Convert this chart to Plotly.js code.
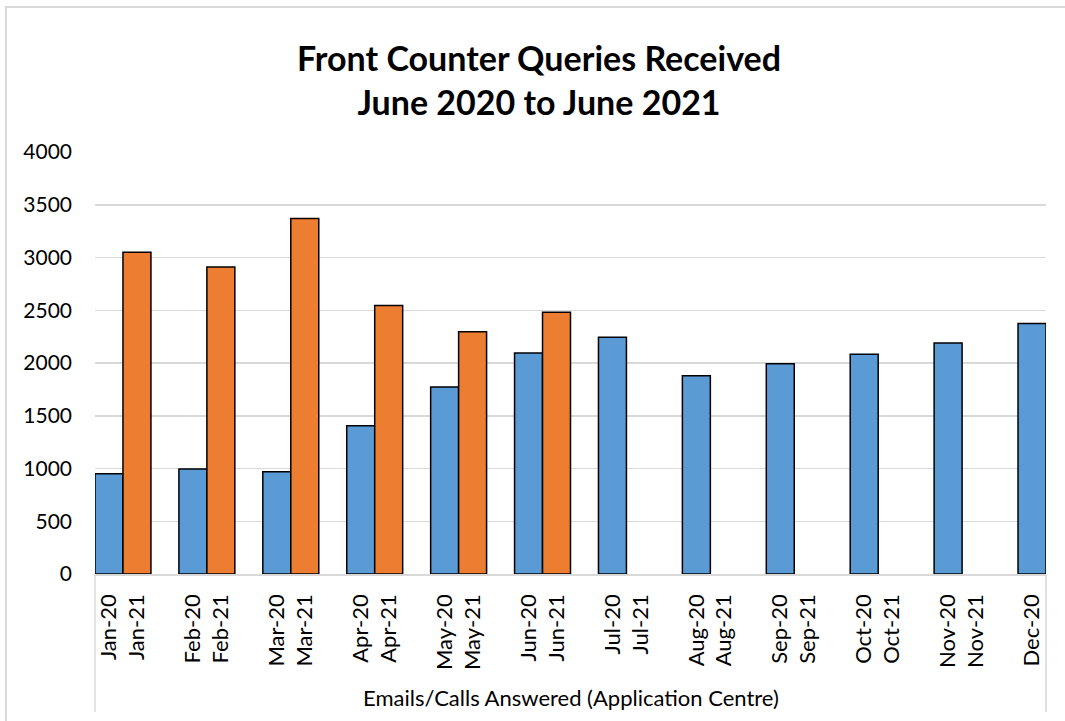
<!DOCTYPE html>
<html>
<head>
<meta charset="utf-8">
<script src="https://cdn.plot.ly/plotly-3.0.1.min.js"></script>
<style>
  html, body { margin: 0; padding: 0; width: 1065px; height: 721px; overflow: hidden; background: #fff; }
  #frame { position: absolute; left: 5px; top: 6px; width: 1200px; height: 900px;
           border-left: 2px solid #D9D9D9; border-top: 2px solid #D9D9D9; box-sizing: border-box; }
  #chart { position: absolute; left: 0; top: 0; width: 1065px; height: 721px; }
</style>
</head>
<body>
<div id="frame"></div>
<div id="chart"></div>
<script>
// ---- data ----
const months = ['Jan','Feb','Mar','Apr','May','Jun','Jul','Aug','Sep','Oct','Nov','Dec'];
const values2020 = [950, 995, 970, 1405, 1772, 2094, 2245, 1879, 1993, 2084, 2189, 2375];
const values2021 = [3050, 2910, 3370, 2545, 2296, 2482, null, null, null, null, null, null];
const labels2020 = ['Jan-20','Feb-20','Mar-20','Apr-20','May-20','Jun-20','Jul-20','Aug-20','Sep-20','Oct-20','Nov-20','Dec-20'];
const labels2021 = ['Jan-21','Feb-21','Mar-21','Apr-21','May-21','Jun-21','Jul-21','Aug-21','Sep-21','Oct-21','Nov-21'];
const yTicks = [0, 500, 1000, 1500, 2000, 2500, 3000, 3500, 4000];
const titleText = 'Front Counter Queries Received<br>June 2020 to June 2021';
const groupLabel = 'Emails/Calls Answered (Application Centre)';

// ---- build ----
const idx = months.map((m, i) => i);
const barW = 1 / 3;
const FONT = 'Lato, "Open Sans", sans-serif';

const tickVals = [];
const tickText = [];
idx.forEach(i => {
  tickVals.push(i - barW / 2); tickText.push(labels2020[i]);
  if (i < labels2021.length) { tickVals.push(i + barW / 2); tickText.push(labels2021[i]); }
});

const traces = [
  { type: 'bar', name: '2020', x: idx, y: values2020, width: barW, offset: -barW,
    marker: { color: '#5B9BD5', line: { color: '#000', width: 1.5 } }, hoverinfo: 'y' },
  { type: 'bar', name: '2021', x: idx, y: values2021, width: barW, offset: 0,
    marker: { color: '#ED7D31', line: { color: '#000', width: 1.5 } }, hoverinfo: 'y' }
];

const plotBottom = 574, plotTop = 152;
const plotH = plotBottom - plotTop;

const layout = {
  width: 1065, height: 721,
  margin: { l: 95, r: 19, t: plotTop, b: 721 - plotBottom, pad: 0 },
  paper_bgcolor: 'rgba(0,0,0,0)',
  plot_bgcolor: 'rgba(0,0,0,0)',
  showlegend: false,
  barmode: 'overlay',
  font: { family: FONT, color: '#000', size: 20 },
  title: {
    text: titleText,
    font: { family: FONT, size: 34, color: '#000', weight: 'bold' },
    xref: 'container', x: 539 / 1065, xanchor: 'center',
    yref: 'container', y: 1 - 71 / 721, yanchor: 'top'
  },
  xaxis: {
    type: 'linear',
    range: [-barW, idx.length - 1],
    tickmode: 'array', tickvals: tickVals, ticktext: tickText,
    tickangle: -90,
    ticks: '', ticklabelstandoff: 10,
    tickfont: { family: FONT, size: 22, color: '#000' },
    showgrid: false, zeroline: false,
    showline: true, linecolor: '#D9D9D9', linewidth: 1.5,
    fixedrange: true
  },
  yaxis: {
    range: [0, 4000],
    tickmode: 'array', tickvals: yTicks,
    ticks: '', ticklabelstandoff: 22,
    tickfont: { family: FONT, size: 21, color: '#000' },
    showgrid: true, gridcolor: '#D9D9D9', gridwidth: 1.5,
    zeroline: false, showline: false,
    fixedrange: true
  },
  shapes: [
    { type: 'line', xref: 'paper', yref: 'paper', x0: 0, x1: 0, y0: 0, y1: -(712 - plotBottom) / plotH,
      line: { color: '#D9D9D9', width: 1.5 } },
    { type: 'line', xref: 'paper', yref: 'paper', x0: 1, x1: 1, y0: 0, y1: -(712 - plotBottom) / plotH,
      line: { color: '#D9D9D9', width: 1.5 } }
  ],
  annotations: [
    { text: groupLabel, xref: 'paper', yref: 'paper', x: 0.5, y: -(697 - plotBottom) / plotH,
      xanchor: 'center', yanchor: 'middle', showarrow: false,
      font: { family: FONT, size: 22, color: '#000' } }
  ]
};

Plotly.newPlot('chart', traces, layout, { displayModeBar: false, staticPlot: true });
</script>
</body>
</html>
